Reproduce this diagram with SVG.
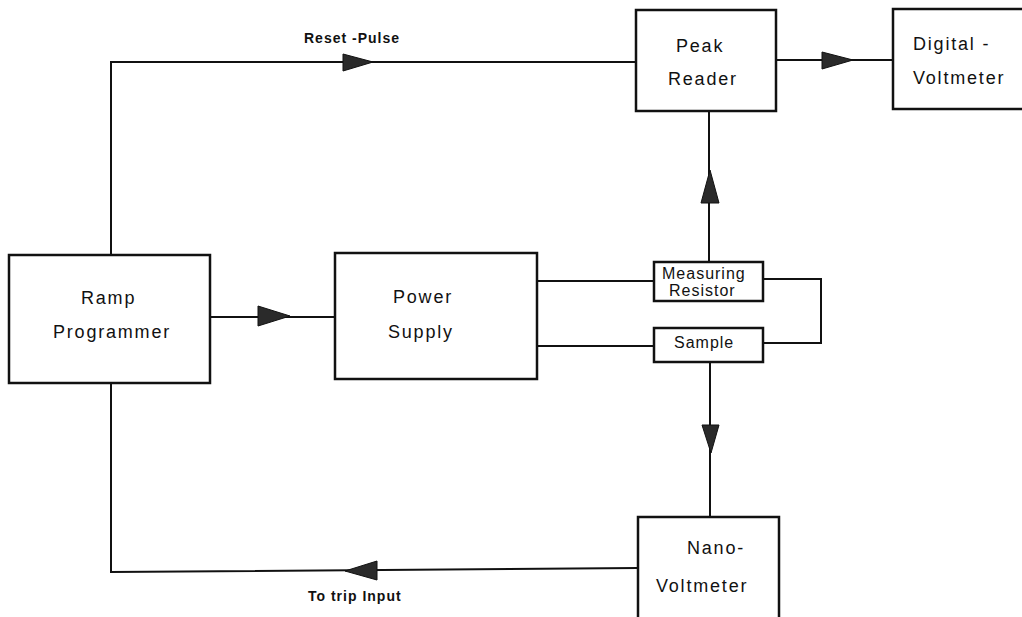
<svg xmlns="http://www.w3.org/2000/svg" width="1022" height="617" viewBox="0 0 1022 617">
<style>
.box{fill:#fff;stroke:#111;stroke-width:2.5}
.ln{fill:none;stroke:#111;stroke-width:2}
.ah{fill:#2a2a2a;stroke:#111;stroke-width:1}
.lbl{font-family:"Liberation Sans",Arial,sans-serif;font-size:18px;letter-spacing:1.8px;fill:#111}
.sm{font-family:"Liberation Sans",Arial,sans-serif;font-size:16px;letter-spacing:1px;fill:#111}
.tiny{font-family:"Liberation Sans",Arial,sans-serif;font-size:14px;font-weight:bold;letter-spacing:1px;fill:#111}
</style>
<rect width="1022" height="617" fill="#fff"/>
<g id="connectors">
<path class="ln" d="M111,255 V62 H636"/>
<polygon class="ah" points="343,54 373,62 343,71"/>
<path class="ln" d="M776,60 H893"/>
<polygon class="ah" points="822,52 853,60 822,69"/>
<path class="ln" d="M709,111 V262"/>
<polygon class="ah" points="701,203 710,170 719,203"/>
<path class="ln" d="M210,317 H335"/>
<polygon class="ah" points="258,306 290,316 258,326"/>
<path class="ln" d="M537,281 H654"/>
<path class="ln" d="M537,346 H654"/>
<path class="ln" d="M763,279 H821 V343 H763"/>
<path class="ln" d="M710,362 V517"/>
<polygon class="ah" points="702,425 719,425 711,453"/>
<path class="ln" d="M638,568 L111,572 V383"/>
<polygon class="ah" points="377,561 345,571 377,580"/>
<text class="tiny" x="304" y="43">Reset -Pulse</text>
<text class="tiny" x="308" y="601">To trip Input</text>
</g>
<g id="ramp-programmer">
<rect class="box" x="9" y="255" width="201" height="128"/>
<text class="lbl" x="81" y="304">Ramp</text>
<text class="lbl" x="53" y="338">Programmer</text>
</g>
<g id="power-supply">
<rect class="box" x="335" y="253" width="202" height="126"/>
<text class="lbl" x="393" y="303">Power</text>
<text class="lbl" x="388" y="338">Supply</text>
</g>
<g id="peak-reader">
<rect class="box" x="636" y="10" width="140" height="101"/>
<text class="lbl" x="676" y="52">Peak</text>
<text class="lbl" x="668" y="85">Reader</text>
</g>
<g id="digital-voltmeter">
<rect class="box" x="893" y="9" width="140" height="100"/>
<text class="lbl" x="913" y="50">Digital -</text>
<text class="lbl" x="913" y="84">Voltmeter</text>
</g>
<g id="measuring-resistor">
<rect class="box" x="654" y="262" width="109" height="39"/>
<text class="sm" x="662" y="279">Measuring</text>
<text class="sm" x="669" y="296">Resistor</text>
</g>
<g id="sample">
<rect class="box" x="654" y="328" width="109" height="34"/>
<text class="sm" x="674" y="348">Sample</text>
</g>
<g id="nano-voltmeter">
<rect class="box" x="638" y="517" width="141" height="120"/>
<text class="lbl" x="687" y="554">Nano-</text>
<text class="lbl" x="656" y="592">Voltmeter</text>
</g>
</svg>
